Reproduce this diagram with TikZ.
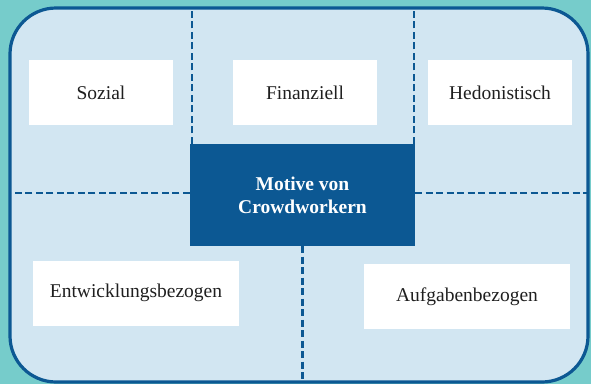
\documentclass[tikz,border=0pt]{standalone}
\usepackage{fontspec}
\setmainfont{Liberation Serif}

\definecolor{bgteal}{HTML}{76CCCB}
\definecolor{panel}{HTML}{D2E6F2}
\definecolor{navy}{HTML}{0C5893}

\begin{document}
\begin{tikzpicture}[x=1pt, y=-1pt,
		frame/.style={rectangle, rounded corners=46pt, draw=navy, line width=3.2pt, fill=panel, minimum width=578pt, minimum height=374pt, inner sep=0pt, outer sep=0pt},
		motiv/.style={rectangle, fill=white, minimum height=65pt, inner sep=0pt, text=black!88, font=\fontsize{19.5}{23}\selectfont},
		core/.style={rectangle, fill=navy, minimum width=225pt, minimum height=102pt, inner sep=0pt, align=center, text=white, font=\fontsize{19.5}{23}\selectfont\bfseries},
		divider/.style={draw=navy, line width=2.5pt, dash pattern=on 7pt off 3.5pt}
		]
		\fill[bgteal] (0,0) rectangle (591,384);
		\useasboundingbox (0,0) rectangle (591,384);
		
		\node[frame] (frame) at (299,195) {};
		\node[core] (core) at (302.5,195) {Motive von\\Crowdworkern};
		
		% dashed lines splitting the panel
		\draw[divider] ([xshift=2pt]core.north west) -- ([xshift=2pt]core.north west |- frame.north);
		\draw[divider] ([xshift=-1pt]core.north east) -- ([xshift=-1pt]core.north east |- frame.north);
		\draw[divider] ([yshift=2pt]core.west) -- ([yshift=2pt]core.west -| frame.west);
		\draw[divider] ([yshift=2pt]core.east) -- ([yshift=2pt]core.east -| frame.east);
		\draw[divider] (core.south) -- (core.south |- frame.south);
		
		\node[motiv, minimum width=144pt] (sozial) at (101,92.5) {Sozial};
		\node[motiv, minimum width=144pt] (finanz) at (305,92.5) {Finanziell};
		\node[motiv, minimum width=144pt] (hedon) at (500,92.5) {Hedonistisch};
		\node[motiv, minimum width=206pt] (entw) at (136,293) {Entwicklungsbezogen};
		\node[motiv, minimum width=206pt] (aufg) at (467,296.5) {Aufgabenbezogen};
		
	\end{tikzpicture}
\end{document}
